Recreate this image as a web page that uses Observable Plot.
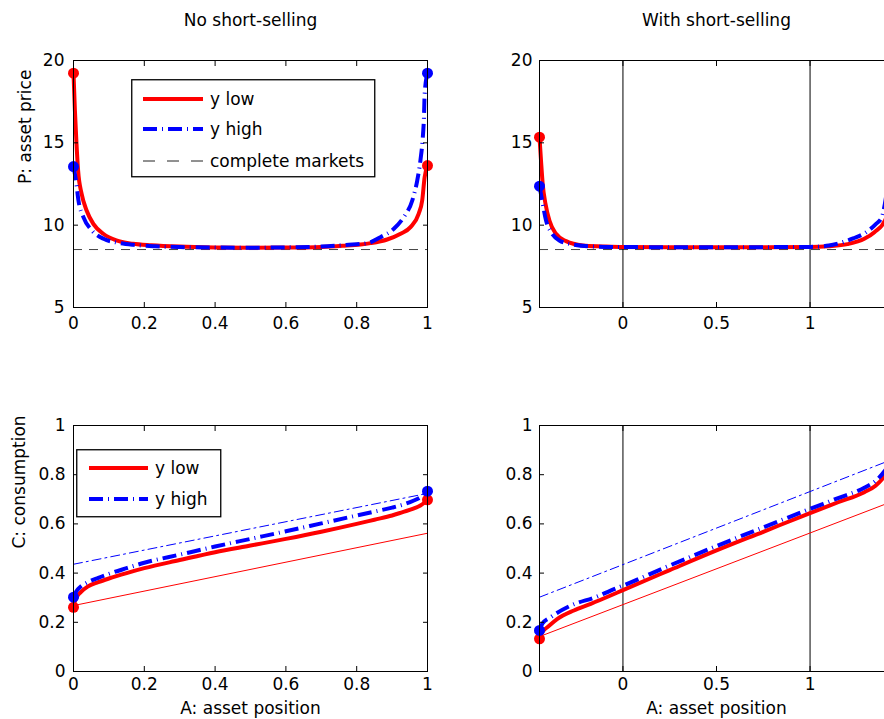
<!DOCTYPE html>
<html><head><meta charset="utf-8">
<script src="https://cdn.jsdelivr.net/npm/d3@7"></script>
<script src="https://cdn.jsdelivr.net/npm/@observablehq/plot@0.6"></script>
<style>
html,body{margin:0;padding:0;overflow:hidden;background:#fff;}
#wrap{position:relative;width:884px;height:719px;overflow:hidden;font-family:"DejaVu Sans",sans-serif;}
#wrap > div{position:absolute;}
#wrap svg{max-width:none !important;display:block;}
svg text{font-family:"DejaVu Sans",sans-serif;}
</style></head><body><div id="wrap"></div>
<script>
// ---------- Data ----------
const titles = ["No short-selling", "With short-selling"];
const yLabelTop = "P: asset price";
const yLabelBottom = "C: consumption";
const xLabel = "A: asset position";
const seriesNames = ["y low", "y high", "complete markets"];

const xTicksNoShort = [0, 0.2, 0.4, 0.6, 0.8, 1];
const xTicksShort = [0, 0.5, 1];
const yTicksPrice = [5, 10, 15, 20];
const yTicksCons = [0, 0.2, 0.4, 0.6, 0.8, 1];
const priceDomain = [5, 20];
const consDomain = [0, 1];
const aDomainNoShort = [0, 1];
const aDomainShort = [-0.446, 1.446];
const completeMarketsPrice = [8.52];
const shortLimits = [0, 1];

// Top-left: price, no short-selling
const tlLowA = [0, 0.004, 0.0085, 0.013, 0.023, 0.037, 0.056, 0.084, 0.121, 0.168, 0.22, 0.3, 0.4, 0.5, 0.6, 0.7, 0.76, 0.811, 0.839, 0.886, 0.924, 0.952, 0.975, 0.985, 0.992, 1];
const tlLowP = [19.23, 16.96, 14.94, 13.32, 11.9, 10.89, 10.08, 9.48, 9.07, 8.87, 8.78, 8.7, 8.65, 8.63, 8.64, 8.68, 8.75, 8.83, 8.91, 9.13, 9.48, 9.88, 10.69, 11.5, 12.92, 13.62];
const tlHighA = [0, 0.007, 0.014, 0.028, 0.052, 0.085, 0.133, 0.169, 0.23, 0.3, 0.4, 0.5, 0.6, 0.7, 0.77, 0.83, 0.867, 0.905, 0.933, 0.957, 0.971, 0.98, 0.986, 0.99, 0.992, 1];
const tlHighP = [13.56, 12.71, 11.5, 10.49, 9.68, 9.17, 8.91, 8.81, 8.72, 8.67, 8.64, 8.63, 8.65, 8.7, 8.8, 8.91, 9.27, 9.78, 10.49, 11.5, 12.71, 13.93, 15.14, 16.56, 17.98, 19.23];
const tlDotsLow = {A: [0, 1], P: [19.23, 13.62]};
const tlDotsHigh = {A: [0, 1], P: [13.56, 19.23]};

// Top-right: price, with short-selling
const trLowA = [-0.446, -0.438, -0.429, -0.414, -0.393, -0.358, -0.304, -0.215, -0.108, 0, 0.25, 0.5, 0.75, 1, 1.1, 1.2, 1.29, 1.344, 1.401, 1.42, 1.435, 1.446];
const trLowP = [15.34, 13.93, 12.51, 11.3, 10.28, 9.48, 9.03, 8.77, 8.71, 8.67, 8.66, 8.66, 8.66, 8.67, 8.72, 8.85, 9.17, 9.57, 10.3, 10.9, 11.6, 12.37];
const trHighA = [-0.446, -0.432, -0.411, -0.384, -0.34, -0.269, -0.162, 0, 0.5, 1, 1.1, 1.17, 1.23, 1.29, 1.35, 1.384, 1.4, 1.415, 1.43, 1.446];
const trHighP = [12.37, 11.5, 10.28, 9.58, 9.07, 8.83, 8.71, 8.67, 8.66, 8.68, 8.76, 8.95, 9.2, 9.5, 10.05, 10.5, 11.3, 12.4, 13.7, 15.34];
const trDotsLow = {A: [-0.446, 1.446], P: [15.34, 12.37]};
const trDotsHigh = {A: [-0.446, 1.446], P: [12.37, 15.34]};

// Bottom-left: consumption, no short-selling
const blLowA = [0, 0.005, 0.01, 0.02, 0.04, 0.07, 0.1, 0.15, 0.2, 0.3, 0.4, 0.5, 0.6, 0.7, 0.8, 0.85, 0.9, 0.93, 0.96, 0.98, 0.99, 1];
const blLowC = [0.261, 0.29, 0.305, 0.322, 0.345, 0.363, 0.378, 0.4, 0.42, 0.453, 0.485, 0.512, 0.539, 0.568, 0.6, 0.617, 0.634, 0.648, 0.662, 0.675, 0.685, 0.698];
const blHighA = blLowA;
const blHighC = [0.302, 0.318, 0.33, 0.345, 0.363, 0.381, 0.397, 0.42, 0.442, 0.475, 0.508, 0.539, 0.57, 0.602, 0.634, 0.65, 0.666, 0.678, 0.694, 0.708, 0.718, 0.733];
const blIncomeLowA = [0, 1];
const blIncomeLowC = [0.268, 0.562];
const blIncomeHighA = [0, 1];
const blIncomeHighC = [0.436, 0.724];
const blDotsLow = {A: [0, 1], C: [0.261, 0.698]};
const blDotsHigh = {A: [0, 1], C: [0.302, 0.733]};

// Bottom-right: consumption, with short-selling
const brLowA = [-0.446, -0.435, -0.42, -0.404, -0.35, -0.262, -0.172, -0.066, 0, 0.25, 0.5, 0.75, 1, 1.15, 1.29, 1.35, 1.401, 1.425, 1.446];
const brLowC = [0.133, 0.155, 0.17, 0.18, 0.214, 0.248, 0.275, 0.309, 0.331, 0.412, 0.492, 0.568, 0.644, 0.688, 0.729, 0.755, 0.797, 0.825, 0.86];
const brHighA = [-0.446, -0.43, -0.386, -0.279, -0.137, -0.066, 0, 0.25, 0.5, 0.75, 1, 1.15, 1.29, 1.35, 1.401, 1.425, 1.446];
const brHighC = [0.167, 0.195, 0.221, 0.268, 0.305, 0.329, 0.349, 0.431, 0.51, 0.586, 0.661, 0.705, 0.747, 0.775, 0.817, 0.845, 0.88];
const brIncomeLowA = [-0.446, 1.446];
const brIncomeLowC = [0.142, 0.693];
const brIncomeHighA = [-0.446, 1.446];
const brIncomeHighC = [0.302, 0.864];
const brDotsLow = {A: [-0.446, 1.446], C: [0.133, 0.86]};
const brDotsHigh = {A: [-0.446, 1.446], C: [0.167, 0.88]};

// ---------- Styles ----------
const RED = "#ff0000", BLUE = "#0000ff";
const thick = 4;
const dotR = 5.5;
const dashDotThick = "14,5,1,5";
const dashDotThin = "9,4,2,4";
const cmDash = "9,7";
const FONT = 17;
const fmt = d3.format("~g");

function axes(xTicks, yTicks, padY, padX) {
  return [
    Plot.axisX({ticks: xTicks, anchor: "bottom", tickSize: 0, tickPadding: padX, tickFormat: fmt, label: null}),
    Plot.axisY({ticks: yTicks, anchor: "left", tickSize: 0, tickPadding: padY, tickFormat: fmt, label: null}),
    Plot.axisX({ticks: xTicks, anchor: "bottom", tickSize: -5, tickFormat: () => "", label: null}),
    Plot.axisX({ticks: xTicks, anchor: "top", tickSize: -5, tickFormat: () => "", label: null}),
    Plot.axisY({ticks: yTicks, anchor: "left", tickSize: -5, tickFormat: () => "", label: null}),
    Plot.axisY({ticks: yTicks, anchor: "right", tickSize: -5, tickFormat: () => "", label: null})
  ];
}

function place(svg, left, top, w, h) {
  const d = document.createElement("div");
  d.style.left = left + "px";
  d.style.top = top + "px";
  if (w) { d.style.width = w + "px"; d.style.height = h + "px"; }
  svg.style.maxWidth = "none";
  d.appendChild(svg);
  document.getElementById("wrap").appendChild(d);
}

const common = {style: {fontFamily: "DejaVu Sans, sans-serif", fontSize: FONT + "px", background: "transparent", overflow: "visible", color: "black", maxWidth: "none"}};

// Top-left
place(Plot.plot({
  ...common,
  width: 442, height: 347, marginLeft: 73, marginRight: 15, marginTop: 60, marginBottom: 40,
  x: {domain: aDomainNoShort},
  y: {domain: priceDomain},
  marks: [
    Plot.ruleY(completeMarketsPrice, {stroke: "#444", strokeWidth: 1, strokeDasharray: cmDash}),
    Plot.line(tlLowA, {x: tlLowA, y: tlLowP, stroke: RED, strokeWidth: thick, curve: "monotone-x"}),
    Plot.line(tlHighA, {x: tlHighA, y: tlHighP, stroke: BLUE, strokeWidth: thick, strokeDasharray: dashDotThick, strokeLinecap: "butt", curve: "monotone-x"}),
    Plot.dot(tlDotsLow.A, {x: tlDotsLow.A, y: tlDotsLow.P, r: dotR, fill: RED}),
    Plot.dot(tlDotsHigh.A, {x: tlDotsHigh.A, y: tlDotsHigh.P, r: dotR, fill: BLUE}),
    Plot.frame({stroke: "black"}),
    ...axes(xTicksNoShort, yTicksPrice, 9, 9),
    Plot.text([titles[0]], {frameAnchor: "top", lineAnchor: "middle", dy: -40, text: d => d, fontSize: FONT}),
    Plot.text([yLabelTop], {frameAnchor: "left", rotate: -90, dx: -48, text: d => d, fontSize: FONT})
  ]
}), 0, 0, 442, 347);

// Top-right
place(Plot.plot({
  ...common,
  width: 466, height: 347, marginLeft: 97, marginRight: 15, marginTop: 60, marginBottom: 40,
  x: {domain: aDomainShort},
  y: {domain: priceDomain},
  marks: [
    Plot.ruleY(completeMarketsPrice, {stroke: "#444", strokeWidth: 1, strokeDasharray: cmDash}),
    Plot.ruleX(shortLimits, {stroke: "black", strokeWidth: 1}),
    Plot.line(trLowA, {x: trLowA, y: trLowP, stroke: RED, strokeWidth: thick, curve: "monotone-x"}),
    Plot.line(trHighA, {x: trHighA, y: trHighP, stroke: BLUE, strokeWidth: thick, strokeDasharray: dashDotThick, strokeLinecap: "butt", curve: "monotone-x"}),
    Plot.dot(trDotsLow.A, {x: trDotsLow.A, y: trDotsLow.P, r: dotR, fill: RED}),
    Plot.dot(trDotsHigh.A, {x: trDotsHigh.A, y: trDotsHigh.P, r: dotR, fill: BLUE}),
    Plot.frame({stroke: "black"}),
    ...axes(xTicksShort, yTicksPrice, 7, 9),
    Plot.text([titles[1]], {frameAnchor: "top", lineAnchor: "middle", dy: -40, text: d => d, fontSize: FONT})
  ]
}), 442, 0, 466, 347);

// Bottom-left
place(Plot.plot({
  ...common,
  width: 442, height: 359, marginLeft: 73, marginRight: 15, marginTop: 65, marginBottom: 48,
  x: {domain: aDomainNoShort},
  y: {domain: consDomain},
  marks: [
    Plot.line(blIncomeLowA, {x: blIncomeLowA, y: blIncomeLowC, stroke: RED, strokeWidth: 1}),
    Plot.line(blIncomeHighA, {x: blIncomeHighA, y: blIncomeHighC, stroke: BLUE, strokeWidth: 1, strokeDasharray: dashDotThin}),
    Plot.line(blLowA, {x: blLowA, y: blLowC, stroke: RED, strokeWidth: thick, curve: "monotone-x"}),
    Plot.line(blHighA, {x: blHighA, y: blHighC, stroke: BLUE, strokeWidth: thick, strokeDasharray: dashDotThick, strokeLinecap: "butt", curve: "monotone-x"}),
    Plot.dot(blDotsLow.A, {x: blDotsLow.A, y: blDotsLow.C, r: dotR, fill: RED}),
    Plot.dot(blDotsHigh.A, {x: blDotsHigh.A, y: blDotsHigh.C, r: dotR, fill: BLUE}),
    Plot.frame({stroke: "black"}),
    ...axes(xTicksNoShort, yTicksCons, 8, 6),
    Plot.text([yLabelBottom], {frameAnchor: "left", rotate: -90, dx: -54, text: d => d, fontSize: FONT}),
    Plot.text([xLabel], {frameAnchor: "bottom", lineAnchor: "middle", dy: 37, text: d => d, fontSize: FONT})
  ]
}), 0, 360, 442, 359);

// Bottom-right
place(Plot.plot({
  ...common,
  width: 466, height: 359, marginLeft: 97, marginRight: 15, marginTop: 65, marginBottom: 48,
  x: {domain: aDomainShort},
  y: {domain: consDomain},
  marks: [
    Plot.ruleX(shortLimits, {stroke: "black", strokeWidth: 1}),
    Plot.line(brIncomeLowA, {x: brIncomeLowA, y: brIncomeLowC, stroke: RED, strokeWidth: 1}),
    Plot.line(brIncomeHighA, {x: brIncomeHighA, y: brIncomeHighC, stroke: BLUE, strokeWidth: 1, strokeDasharray: dashDotThin}),
    Plot.line(brLowA, {x: brLowA, y: brLowC, stroke: RED, strokeWidth: thick, curve: "monotone-x"}),
    Plot.line(brHighA, {x: brHighA, y: brHighC, stroke: BLUE, strokeWidth: thick, strokeDasharray: dashDotThick, strokeLinecap: "butt", curve: "monotone-x"}),
    Plot.dot(brDotsLow.A, {x: brDotsLow.A, y: brDotsLow.C, r: dotR, fill: RED}),
    Plot.dot(brDotsHigh.A, {x: brDotsHigh.A, y: brDotsHigh.C, r: dotR, fill: BLUE}),
    Plot.frame({stroke: "black"}),
    ...axes(xTicksShort, yTicksCons, 7, 6),
    Plot.text([xLabel], {frameAnchor: "bottom", lineAnchor: "middle", dy: 37, text: d => d, fontSize: FONT})
  ]
}), 442, 360, 466, 359);

// ---------- Legends (overlay) ----------
function legend(left, top, w, h, items) {
  const ns = "http://www.w3.org/2000/svg";
  const svg = document.createElementNS(ns, "svg");
  svg.setAttribute("width", w + 2);
  svg.setAttribute("height", h + 2);
  const rect = document.createElementNS(ns, "rect");
  rect.setAttribute("x", 0.75); rect.setAttribute("y", 0.75);
  rect.setAttribute("width", w); rect.setAttribute("height", h);
  rect.setAttribute("fill", "white"); rect.setAttribute("stroke", "black"); rect.setAttribute("stroke-width", 1.3);
  svg.appendChild(rect);
  items.forEach(it => {
    const l = document.createElementNS(ns, "line");
    l.setAttribute("x1", it.x1); l.setAttribute("x2", it.x2);
    l.setAttribute("y1", it.y); l.setAttribute("y2", it.y);
    l.setAttribute("stroke", it.stroke); l.setAttribute("stroke-width", it.width);
    if (it.dash) l.setAttribute("stroke-dasharray", it.dash);
    svg.appendChild(l);
    const t = document.createElementNS(ns, "text");
    t.setAttribute("x", it.tx); t.setAttribute("y", it.y);
    t.setAttribute("dy", "0.35em");
    t.setAttribute("font-size", FONT);
    t.setAttribute("font-family", "DejaVu Sans, sans-serif");
    t.textContent = it.label;
    svg.appendChild(t);
  });
  place(svg, left, top);
}
legend(131, 79, 243, 97, [
  {x1: 12, x2: 72, y: 20, stroke: RED, width: thick, label: seriesNames[0], tx: 79},
  {x1: 12, x2: 72, y: 50, stroke: BLUE, width: thick, dash: dashDotThick, label: seriesNames[1], tx: 79},
  {x1: 12, x2: 72, y: 82, stroke: "#222", width: 1, dash: "12,12", label: seriesNames[2], tx: 79}
]);
legend(76, 449, 144, 67, [
  {x1: 13, x2: 72, y: 19, stroke: RED, width: thick, label: seriesNames[0], tx: 79},
  {x1: 13, x2: 72, y: 50, stroke: BLUE, width: thick, dash: dashDotThick, label: seriesNames[1], tx: 79}
]);
</script></body></html>
